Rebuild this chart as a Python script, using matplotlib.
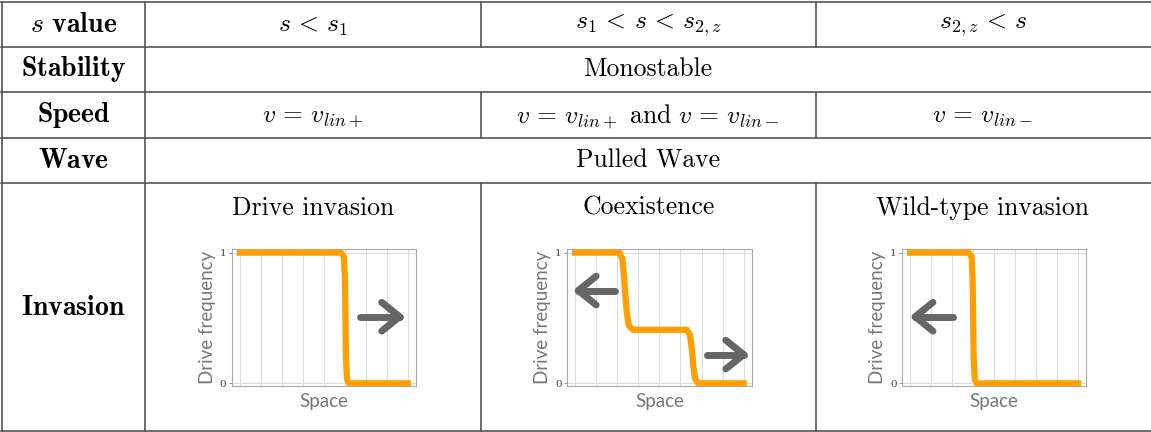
import numpy as np
import matplotlib
matplotlib.use("Agg")
import matplotlib.pyplot as plt

plt.rcParams['mathtext.fontset'] = 'cm'

# === Table content ===
row_labels = [r"$s$ $\mathbf{value}$", r"$\mathbf{Stability}$", r"$\mathbf{Speed}$",
              r"$\mathbf{Wave}$", r"$\mathbf{Invasion}$"]
s_ranges = [r"$s\,<\,s_1$", r"$s_1\,<\,s\,<\,s_{2,z}$", r"$s_{2,z}\,<\,s$"]
stability = "Monostable"
speeds = [r"$v\,=\,v_{lin+}$",
          r"$v\,=\,v_{lin+}\ \mathrm{and}\ v\,=\,v_{lin-}$",
          r"$v\,=\,v_{lin-}$"]
wave = "Pulled Wave"
invasion_titles = ["Drive invasion", "Coexistence", "Wild-type invasion"]

# === Mini-plot data (drive frequency along space) ===
drive_x = [0, 4.8, 4.95, 5.0, 5.05, 5.1, 5.2, 8]
drive_y = [1, 1, 0.97, 0.8, 0.2, 0.03, 0, 0]
coex_x = [0, 2.1, 2.25, 2.35, 2.45, 2.55, 2.75, 5.3, 5.45, 5.55, 5.62, 5.7, 5.85, 8]
coex_y = [1, 1, 0.95, 0.75, 0.55, 0.44, 0.41, 0.41, 0.37, 0.25, 0.12, 0.03, 0, 0]
wild_x = [0, 2.8, 2.93, 2.98, 3.03, 3.08, 3.18, 8]
wild_y = [1, 1, 0.97, 0.8, 0.2, 0.03, 0, 0]
curves = [(drive_x, drive_y), (coex_x, coex_y), (wild_x, wild_y)]

# arrows: (tail x, head x, y) per panel
arrows = [
    [(5.7, 7.6, 0.51)],
    [(1.9, 0.15, 0.71), (6.24, 8.0, 0.22)],
    [(2.05, 0.24, 0.51)],
]

W, H = 1151, 432
fig = plt.figure(figsize=(W / 100, H / 100), dpi=100)
fig.patch.set_facecolor("white")

ax0 = fig.add_axes([0, 0, 1, 1])
ax0.set_xlim(0, W)
ax0.set_ylim(H, 0)
ax0.axis("off")

# table grid
row_y = [1.7, 46.7, 92.3, 137.7, 183.0, 430.5]
col_x = [1.7, 145.3, 480.7, 815.7, 1150.0]
line_kw = dict(color="#555555", lw=1.2)
for y in row_y:
    ax0.plot([1.2, W], [y, y], **line_kw)
ax0.plot([col_x[0]] * 2, [row_y[0], row_y[-1]], **line_kw)
ax0.plot([col_x[1]] * 2, [row_y[0], row_y[-1]], **line_kw)
for x in col_x[2:4]:
    for r in (0, 2, 4):
        ax0.plot([x, x], [row_y[r], row_y[r + 1]], **line_kw)

fs = 18.5
centers_y = [(row_y[i] + row_y[i + 1]) / 2 for i in range(5)]
col_c = [(col_x[i] + col_x[i + 1]) / 2 for i in range(4)]
span_c = (col_x[1] + col_x[4]) / 2

for lab, y in zip(row_labels, centers_y):
    ax0.text(col_c[0], y, lab, fontsize=20, ha="center", va="center")
for j, t in enumerate(s_ranges):
    ax0.text(col_c[j + 1], centers_y[0] + 1, t, fontsize=fs, ha="center", va="center")
ax0.text(span_c, centers_y[1], stability, fontsize=fs, family="cmr10", ha="center", va="center")
for j, t in enumerate(speeds):
    ax0.text(col_c[j + 1], centers_y[2] + 1, t, fontsize=fs, ha="center", va="center")
ax0.text(span_c, centers_y[3], wave, fontsize=fs, family="cmr10", ha="center", va="center")
for j, t in enumerate(invasion_titles):
    ax0.text(col_c[j + 1], 208, t, fontsize=fs, family="cmr10", ha="center", va="center")

# mini plots
boxes = [(232, 416), (567.3, 751.7), (902.3, 1086)]
top, bottom = 249, 385.7
orange = "#FFA000"
grey = "#666666"
for k, ((x0, x1), (cx, cy)) in enumerate(zip(boxes, curves)):
    ax = fig.add_axes([x0 / W, 1 - bottom / H, (x1 - x0) / W, (bottom - top) / H])
    ax.plot(cx, cy, color=orange, lw=4.5, solid_capstyle="projecting",
            solid_joinstyle="round", zorder=3)
    for tx, hx, ay in arrows[k]:
        d = np.sign(hx - tx)
        ax.plot([tx, hx], [ay, ay], color=grey, lw=5, solid_capstyle="round", zorder=4)
        ax.plot([hx - d * 0.85, hx, hx - d * 0.85], [ay + 0.11, ay, ay - 0.11], color=grey,
                lw=5, solid_capstyle="round", solid_joinstyle="round", zorder=4)
    ax.set_xlim(-0.37, 8.38)
    ax.set_ylim(-0.018, 1.028)
    ax.set_xticks(range(9))
    ax.set_yticks([0, 1])
    ax.set_yticklabels(["0", "1"], family="DejaVu Serif", fontsize=7.5, color="#444444")
    ax.tick_params(axis="x", length=0, labelbottom=False)
    ax.tick_params(axis="y", length=2.5, width=0.6, color="#888888", pad=1.5)
    ax.grid(True, color="#dddddd", lw=0.8)
    ax.set_axisbelow(True)
    for s in ax.spines.values():
        s.set_color("#aaaaaa")
        s.set_linewidth(0.8)
    ax.set_ylabel("Drive frequency", family="Lato", fontsize=13.5,
                  color="#777777", labelpad=3)
    ax.set_xlabel("Space", family="Lato", fontsize=13.5,
                  color="#777777", labelpad=5)

fig.savefig("out.png", dpi=100)
